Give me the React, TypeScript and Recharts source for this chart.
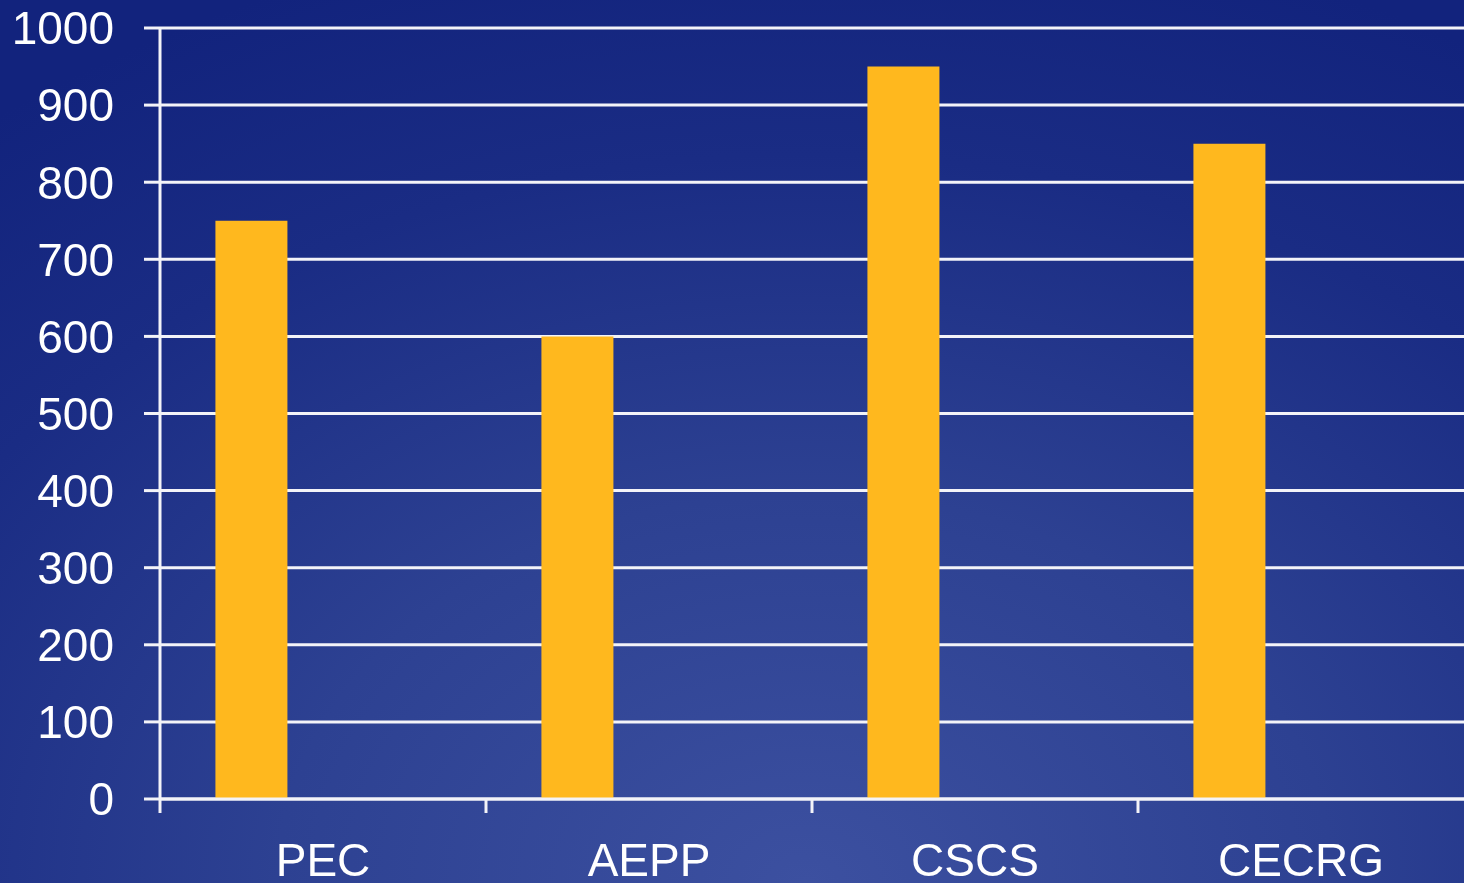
import React from 'react';
import { BarChart, Bar, XAxis, YAxis, CartesianGrid } from 'recharts';

const categories = ['PEC', 'AEPP', 'CSCS', 'CECRG'];
const values = [750, 600, 950, 850];
// the original chart keeps two empty series next to the real one
const emptySeriesA: (number | null)[] = [null, null, null, null];
const emptySeriesB: (number | null)[] = [null, null, null, null];
const yTicks = [0, 100, 200, 300, 400, 500, 600, 700, 800, 900, 1000];

const data = categories.map((name, i) => ({
  name,
  value: values[i],
  s2: emptySeriesA[i],
  s3: emptySeriesB[i],
}));

const FONT = '"Liberation Sans", Arial, sans-serif';
const LINE = '#f3f3f8';

// label in the middle of the band, tick mark on the band's left border
const XTick = (props: any) => {
  const { x, y, payload } = props;
  const half = payload && payload.offset ? payload.offset : 0;
  return (
    <g>
      <line x1={x - half} x2={x - half} y1={y} y2={y + 14} stroke={LINE} strokeWidth={3} />
      <text x={x} y={y + 77} textAnchor="middle" fill="#fff" fontSize={46} fontFamily={FONT}>
        {payload.value}
      </text>
    </g>
  );
};

export default function App() {
  return (
    <div
      style={{
        position: 'fixed',
        left: 0,
        top: 0,
        width: 1464,
        height: 883,
        overflow: 'hidden',
        background:
          'radial-gradient(ellipse 90% 110% at 55% 100%, #3c50a0 0%, #2d4192 40%, #1a2c84 75%, #12237d 100%)',
      }}
    >
      <BarChart
        width={1464}
        height={883}
        data={data}
        margin={{ top: 28, right: 0, bottom: 0, left: 0 }}
        barCategoryGap="17%"
        barGap={0}
      >
        <CartesianGrid vertical={false} stroke={LINE} strokeWidth={3} />
        <XAxis
          dataKey="name"
          height={84}
          interval={0}
          tickLine={false}
          tickSize={0}
          tickMargin={0}
          axisLine={{ stroke: LINE, strokeWidth: 3 }}
          tick={<XTick />}
        />
        <YAxis
          width={160}
          domain={[0, 1000]}
          ticks={yTicks}
          interval={0}
          tickSize={16}
          tickMargin={30}
          tickLine={{ stroke: LINE, strokeWidth: 3 }}
          axisLine={{ stroke: LINE, strokeWidth: 3 }}
          tick={{ fill: '#fff', fontSize: 46, fontFamily: FONT }}
        />
        <Bar dataKey="value" fill="#ffb81e" isAnimationActive={false} />
        <Bar dataKey="s2" fill="#ffb81e" isAnimationActive={false} />
        <Bar dataKey="s3" fill="#ffb81e" isAnimationActive={false} />
      </BarChart>
    </div>
  );
}
